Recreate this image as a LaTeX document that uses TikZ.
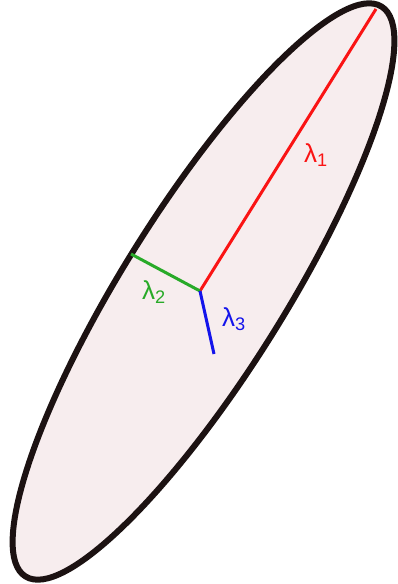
\documentclass[tikz,border=0pt]{standalone}
\usepackage{fontspec}
\setmainfont{Liberation Sans}
\usetikzlibrary{positioning}

\definecolor{shellfill}{RGB}{247,237,238}
\definecolor{shelldraw}{RGB}{28,18,18}
\definecolor{axisred}{RGB}{250,20,20}
\definecolor{axisgreen}{RGB}{40,170,40}
\definecolor{axisblue}{RGB}{20,20,235}

\begin{document}
\begin{tikzpicture}[
        x=1pt, y=-1pt,
        shell/.style={draw=shelldraw, fill=shellfill, line width=6pt},
        axisline/.style={line width=3pt},
        axislabel/.style={font=\fontsize{26}{30}\selectfont, inner sep=0pt}
    ]
    \useasboundingbox (0,0) rectangle (398,584);

    % ELLIPSOID
    \coordinate (mid) at (203.5,291.5);
    \draw[shell, rotate around={58:(mid)}] (mid) ellipse [x radius=336pt, y radius=81pt];

    % AXES
    \coordinate (origin) at (200,291);
    \coordinate (tip1) at (376,9);
    \coordinate (tip2) at (131,254);
    \coordinate (tip3) at (214,354);
    \draw[axisline, axisred] (origin) -- (tip1);
    \draw[axisline, axisgreen] (origin) -- (tip2);
    \draw[axisline, axisblue] (origin) -- (tip3);

    % LABELS
    \node[axislabel, text=axisred] (lab1) at (316,155) {λ\textsubscript{1}};
    \node[axislabel, text=axisgreen] (lab2) at (154,292) {λ\textsubscript{2}};
    \node[axislabel, text=axisblue] (lab3) at (234,319) {λ\textsubscript{3}};
\end{tikzpicture}
\end{document}
